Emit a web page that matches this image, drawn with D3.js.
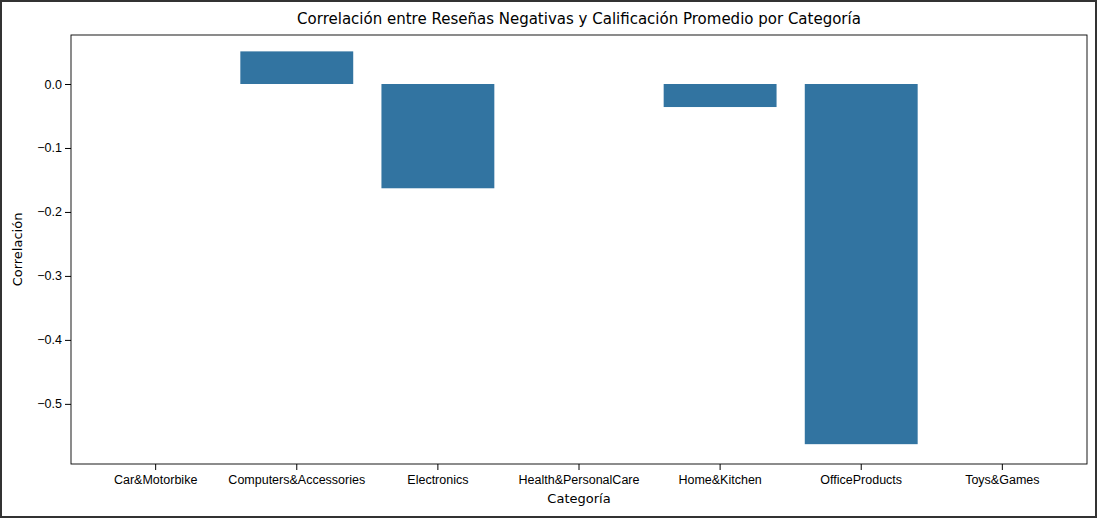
<!DOCTYPE html>
<html><head><meta charset="utf-8">
<script src="https://cdn.jsdelivr.net/npm/d3@7"></script>
<style>body{margin:0;background:#fff;}svg{display:block;font-family:"DejaVu Sans",sans-serif;}</style>
</head><body>
<script>
// categories and correlation values (null = no data)
var categories = ["Car&Motorbike", "Computers&Accessories", "Electronics", "Health&PersonalCare", "Home&Kitchen", "OfficeProducts", "Toys&Games"];
var correlations = [null, 0.051, -0.163, null, -0.036, -0.563, null];
var yTicks = [0.0, -0.1, -0.2, -0.3, -0.4, -0.5];

var svgWidth = 1097, svgHeight = 518;
var margin = {top: 35, right: 10, bottom: 54, left: 71};
var chartWidth = svgWidth - margin.left - margin.right;
var chartHeight = svgHeight - margin.top - margin.bottom;

var svg = d3.select("body").append("svg")
    .attr("width", svgWidth).attr("height", svgHeight);
svg.append("rect").attr("x", 1).attr("y", 1).attr("width", svgWidth - 2).attr("height", svgHeight - 2)
    .attr("fill", "none").attr("stroke", "#333").attr("stroke-width", 2);

var chartGroup = svg.append("g").attr("transform", `translate(${margin.left}, ${margin.top})`);

var x = d3.scaleBand().domain(categories).range([0, chartWidth]).padding(0.2);
var y = d3.scaleLinear().domain([-0.594, 0.0766]).range([chartHeight, 0]);

chartGroup.selectAll("rect.bar")
    .data(categories.map((c, i) => ({c: c, v: correlations[i]})).filter(d => d.v !== null))
    .enter().append("rect").attr("class", "bar")
    .attr("x", d => x(d.c))
    .attr("width", x.bandwidth())
    .attr("y", d => y(Math.max(0, d.v)))
    .attr("height", d => Math.abs(y(d.v) - y(0)))
    .attr("fill", "#3274a1");

var leftAxis = d3.axisLeft(y).tickValues(yTicks).tickFormat(d => d === 0 ? "0.0" : "\u2212" + Math.abs(d).toFixed(1)).tickSizeOuter(0);
var bottomAxis = d3.axisBottom(x).tickSizeOuter(0);
var gl = chartGroup.append("g").call(leftAxis);
var gb = chartGroup.append("g").attr("transform", `translate(0, ${chartHeight})`).call(bottomAxis);
[gl, gb].forEach(g => { g.selectAll("text").style("font-size", "12.5px").attr("fill", "#000"); g.select(".domain").remove(); });
gb.selectAll("text").attr("dy", "0.9em");

chartGroup.append("rect").attr("width", chartWidth).attr("height", chartHeight)
    .attr("fill", "none").attr("stroke", "#000").attr("stroke-width", 0.9);

svg.append("text").attr("x", margin.left + chartWidth / 2).attr("y", 24)
    .style("text-anchor", "middle").style("font-size", "15px").text("Correlación entre Reseñas Negativas y Calificación Promedio por Categoría");
svg.append("text").attr("x", margin.left + chartWidth / 2).attr("y", 503)
    .style("text-anchor", "middle").style("font-size", "13px").text("Categoría");
svg.append("text").attr("transform", "rotate(-90)").attr("x", -(margin.top + chartHeight / 2)).attr("y", 22)
    .style("text-anchor", "middle").style("font-size", "13px").text("Correlación");
</script>
</body></html>
